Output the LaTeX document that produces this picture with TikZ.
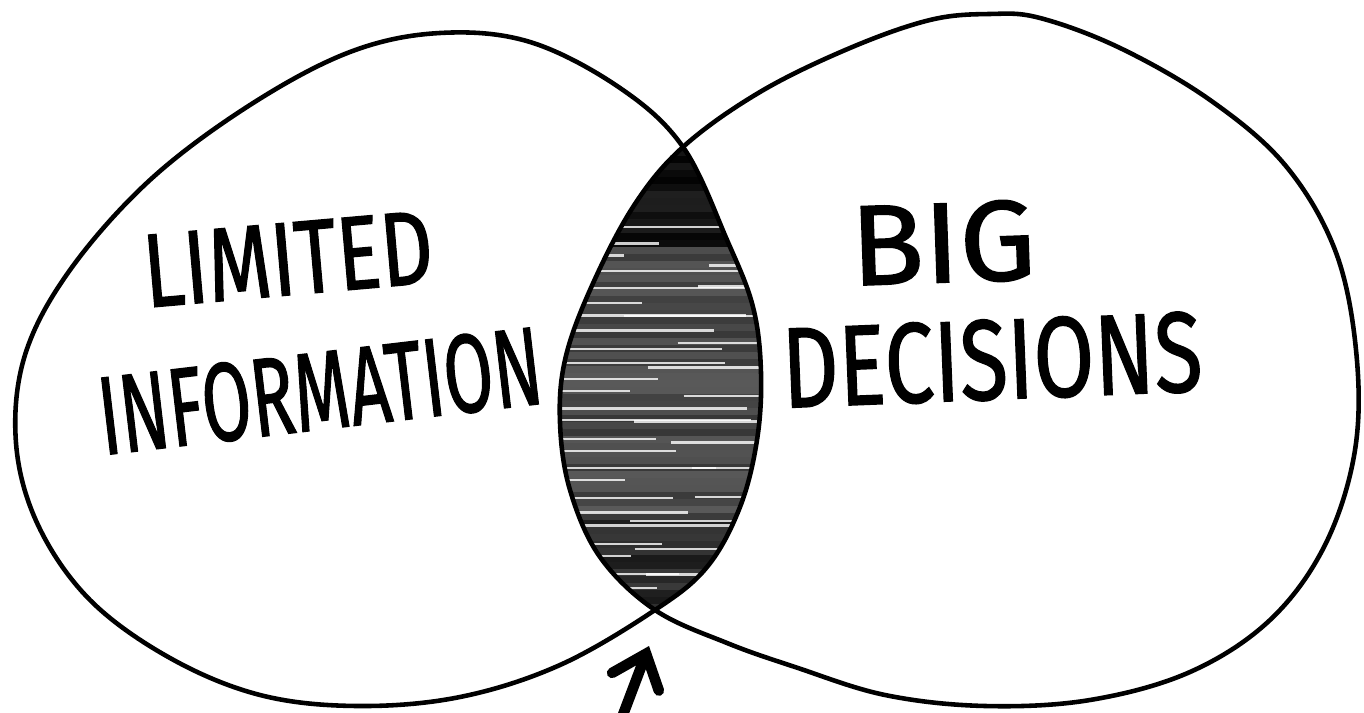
\documentclass[tikz,border=0pt]{standalone}
\usepackage{fontspec}
\setmainfont{Fira Sans}
\newfontfamily\handfont{Fira Sans}[FakeBold=1.3]
\usepackage{graphicx}
\usetikzlibrary{arrows.meta}
\begin{document}
\begin{tikzpicture}[x=0.01cm,y=-0.01cm,
  outline/.style={line width=1.3pt, black, line join=round},
  handtext/.style={inner sep=0pt, font=\handfont},
  streak/.style={white, opacity=0.8, line width=0.7pt},
  pointer/.style={line width=3pt, line cap=round, -{Straight Barb[length=0.3cm,width=0.5cm,line cap=round]}}]
\useasboundingbox (0,0) rectangle (1364,713);
\fill[white] (0,0) rectangle (1364,713);
\def\leftblob{plot[smooth cycle, tension=0.6] coordinates {(683,147) (727,240) (753,307) (761,373) (757,440) (740,507) (707,567) (655,610) (560,665) (460,697) (357,706) (260,695) (170,658) (90,600) (38,525) (16,443) (25,355) (70,270) (150,180) (250,105) (350,52) (440,33) (530,42) (620,88)}}
\def\rightblob{plot[smooth cycle, tension=0.6] coordinates {(683,147) (760,92) (850,48) (930,20) (990,14) (1040,18) (1120,48) (1210,100) (1285,165) (1335,250) (1356,350) (1355,450) (1325,545) (1270,620) (1190,672) (1090,700) (985,706) (885,695) (795,667) (727,643) (655,610) (600,557) (570,490) (560,423) (565,360) (590,290) (633,207)}}
% shaded lens
\begin{scope}
  \clip \leftblob;
  \clip \rightblob;
  \fill[black!92] (520,120) rectangle (800,640);
  \pgfmathsetseed{17}
  \foreach \i in {0,...,66} {
    \pgfmathsetmacro\yy{160+\i*7}
    \pgfmathsetmacro\gbase{(\yy<250)*94 + (\yy>=250)*(\yy<=520)*72 + (\yy>520)*84}
    \pgfmathsetmacro\gval{max(5,min(99,\gbase+14*(rnd-0.5)))}
    \draw[black!\gval, line width=2.2pt] (520,\yy) -- (800,\yy);
  }
  \foreach \i in {0,...,24} {
    \pgfmathsetmacro\yy{225+\i*15+4*rnd}
    \pgfmathsetmacro\xe{620+150*rnd}
    \draw[streak] (540,\yy) -- (\xe,\yy);
  }
  \foreach \i in {0,...,12} {
    \pgfmathsetmacro\yy{260+\i*26+6*rnd}
    \pgfmathsetmacro\xs{600+120*rnd}
    \draw[streak] (\xs,\yy) -- (790,\yy);
  }
\end{scope}
\draw[outline] \leftblob;
\draw[outline] \rightblob;
% labels
\node[handtext, rotate=5] (lim) at (288,259) {\resizebox{2.9cm}{0.72cm}{LIMITED}};
\node[handtext, rotate=6.7] (info) at (320,391) {\resizebox{4.45cm}{0.78cm}{INFORMATION}};
\node[handtext, rotate=2] (big) at (943,243) {\resizebox{1.85cm}{0.8cm}{BIG}};
\node[handtext, rotate=2.3] (dec) at (992,360) {\resizebox{4.2cm}{0.8cm}{DECISIONS}};
% arrow
\coordinate (atail) at (621,720);
\coordinate (atip) at (649,646);
\draw[pointer] (atail) -- (atip);
\end{tikzpicture}
\end{document}
